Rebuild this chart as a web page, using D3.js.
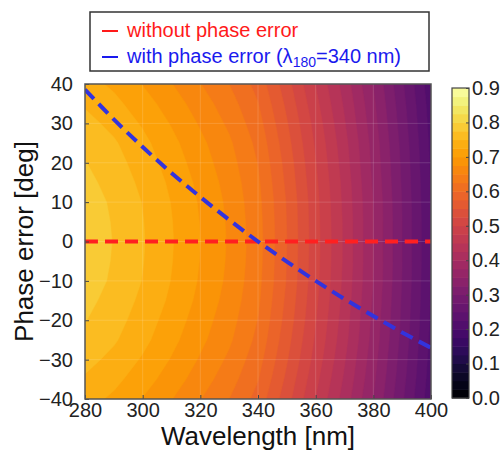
<!DOCTYPE html>
<html>
<head>
<meta charset="utf-8">
<script src="https://cdn.jsdelivr.net/npm/d3@7"></script>
<style>
  body { margin: 0; background: #fff; }
  text { font-family: "Liberation Sans", Arial, sans-serif; }
</style>
</head>
<body>
<div id="chart"></div>
<script>
// Size of the page and of the plot box
const width = 502;
const height = 452;
const plot = {left: 85, right: 431, top: 84, bottom: 399};

// Grid of the contour field, rows from +40 down to -40 deg
const wavelengths = [280, 290, 300, 310, 320, 330, 340, 350, 360, 370, 380, 390, 400];
const phaseErrors = [40, 35, 30, 25, 20, 15, 10, 5, 0, -5, -10, -15, -20, -25, -30, -35, -40];
const values = [
  [0.735, 0.720, 0.699, 0.676, 0.651, 0.625, 0.591, 0.535, 0.474, 0.414, 0.349, 0.279, 0.209],
  [0.747, 0.732, 0.711, 0.688, 0.662, 0.636, 0.601, 0.544, 0.482, 0.421, 0.355, 0.284, 0.213],
  [0.758, 0.743, 0.722, 0.698, 0.672, 0.645, 0.610, 0.552, 0.490, 0.427, 0.360, 0.288, 0.216],
  [0.769, 0.753, 0.732, 0.707, 0.681, 0.654, 0.618, 0.559, 0.496, 0.433, 0.365, 0.292, 0.219],
  [0.776, 0.760, 0.738, 0.714, 0.687, 0.660, 0.624, 0.565, 0.501, 0.437, 0.368, 0.295, 0.221],
  [0.782, 0.766, 0.744, 0.720, 0.693, 0.665, 0.629, 0.569, 0.505, 0.441, 0.371, 0.297, 0.223],
  [0.787, 0.771, 0.749, 0.724, 0.697, 0.669, 0.632, 0.573, 0.508, 0.443, 0.374, 0.299, 0.224],
  [0.789, 0.773, 0.751, 0.726, 0.699, 0.671, 0.634, 0.574, 0.509, 0.445, 0.375, 0.300, 0.225],
  [0.790, 0.774, 0.752, 0.727, 0.700, 0.672, 0.635, 0.575, 0.510, 0.445, 0.375, 0.300, 0.225],
  [0.789, 0.773, 0.751, 0.726, 0.699, 0.671, 0.634, 0.574, 0.509, 0.445, 0.375, 0.300, 0.225],
  [0.787, 0.771, 0.749, 0.724, 0.697, 0.669, 0.632, 0.573, 0.508, 0.443, 0.374, 0.299, 0.224],
  [0.782, 0.766, 0.744, 0.720, 0.693, 0.665, 0.629, 0.569, 0.505, 0.441, 0.371, 0.297, 0.223],
  [0.776, 0.760, 0.738, 0.714, 0.687, 0.660, 0.624, 0.565, 0.501, 0.437, 0.368, 0.295, 0.221],
  [0.769, 0.753, 0.732, 0.707, 0.681, 0.654, 0.618, 0.559, 0.496, 0.433, 0.365, 0.292, 0.219],
  [0.758, 0.743, 0.722, 0.698, 0.672, 0.645, 0.610, 0.552, 0.490, 0.427, 0.360, 0.288, 0.216],
  [0.747, 0.732, 0.711, 0.688, 0.662, 0.636, 0.601, 0.544, 0.482, 0.421, 0.355, 0.284, 0.213],
  [0.735, 0.720, 0.699, 0.676, 0.651, 0.625, 0.591, 0.535, 0.474, 0.414, 0.349, 0.279, 0.209]
];

// the two dashed curves
const noPhaseError = [0, 0, 0, 0, 0, 0, 0, 0, 0, 0, 0, 0, 0];
const withPhaseError = [38.6, 31.0, 24.0, 17.4, 11.3, 5.5, 0, -5.1, -10.0, -14.6, -18.9, -23.1, -27.0];

// ticks
const xTicks = [280, 300, 320, 340, 360, 380, 400];
const yTicks = [-40, -30, -20, -10, 0, 10, 20, 30, 40];
const cbTicks = [0, 0.1, 0.2, 0.3, 0.4, 0.5, 0.6, 0.7, 0.8, 0.9];
const levels = d3.range(0, 0.9, 0.025);
const step = 0.025;

const svg = d3.select("#chart")
  .append("svg")
  .attr("width", width)
  .attr("height", height);

const x = d3.scaleLinear().domain([280, 400]).range([plot.left, plot.right]);
const y = d3.scaleLinear().domain([-40, 40]).range([plot.bottom, plot.top]);
const color = d3.scaleSequential(d3.interpolateInferno).domain([0, 0.9]);

// contours: grid index i sits at coordinate i + 0.5
const cx = d3.scaleLinear().domain([0.5, wavelengths.length - 0.5]).range([x(280), x(400)]);
const cy = d3.scaleLinear().domain([0.5, phaseErrors.length - 0.5]).range([y(40), y(-40)]);
const path = d3.geoPath(d3.geoTransform({
  point: function(px, py) { this.stream.point(cx(px), cy(py)); }
}));

const contours = d3.contours()
  .size([wavelengths.length, phaseErrors.length])
  .thresholds(levels)(values.flat());

svg.append("clipPath").attr("id", "clip")
  .append("rect")
  .attr("x", plot.left).attr("y", plot.top)
  .attr("width", plot.right - plot.left).attr("height", plot.bottom - plot.top);

svg.append("g")
  .attr("clip-path", "url(#clip)")
  .selectAll("path")
  .data(contours)
  .join("path")
  .attr("d", path)
  .attr("fill", d => color(d.value + step / 2))
  .attr("stroke", d => color(d.value + step / 2))
  .attr("stroke-width", 0.5);

// faint grid lines
const grid = svg.append("g").attr("stroke", "#fff").attr("stroke-opacity", 0.15).attr("stroke-width", 1);
grid.selectAll(".vx")
  .data(xTicks.slice(1, -1))
  .join("line")
  .attr("x1", d => x(d)).attr("x2", d => x(d))
  .attr("y1", plot.top).attr("y2", plot.bottom);
grid.selectAll(".hy")
  .data(yTicks.slice(1, -1))
  .join("line")
  .attr("y1", d => y(d)).attr("y2", d => y(d))
  .attr("x1", plot.left).attr("x2", plot.right);

// dashed curves
const line = d3.line()
  .x((d, i) => x(wavelengths[i]))
  .y(d => y(d))
  .curve(d3.curveCatmullRom);

svg.append("path")
  .datum(noPhaseError)
  .attr("d", line)
  .attr("fill", "none")
  .attr("stroke", "#ff2020")
  .attr("stroke-width", 4)
  .attr("stroke-dasharray", "13,7");

svg.append("path")
  .datum(withPhaseError)
  .attr("clip-path", "url(#clip)")
  .attr("d", line)
  .attr("fill", "none")
  .attr("stroke", "#3333dd")
  .attr("stroke-width", 4)
  .attr("stroke-dasharray", "13,7");

// axes
const xAxis = svg.append("g")
  .attr("transform", `translate(0,${plot.bottom})`)
  .call(d3.axisBottom(x).tickValues(xTicks).tickSize(-4).tickPadding(4).tickFormat(d3.format("d")));
const yAxis = svg.append("g")
  .attr("transform", `translate(${plot.left},0)`)
  .call(d3.axisLeft(y).tickValues(yTicks).tickSize(-4).tickPadding(12).tickFormat(d3.format("d")));

[xAxis, yAxis].forEach(g => {
  g.select(".domain").remove();
  g.selectAll(".tick line").attr("stroke", "#444");
  g.selectAll(".tick text").attr("font-size", "20px").attr("fill", "#222")
    .style("font-family", "'Liberation Sans', Arial, sans-serif");
});

// frame
svg.append("rect")
  .attr("x", plot.left).attr("y", plot.top)
  .attr("width", plot.right - plot.left).attr("height", plot.bottom - plot.top)
  .attr("fill", "none").attr("stroke", "#555").attr("stroke-width", 1.5);

// axis titles
svg.append("text")
  .attr("x", (plot.left + plot.right) / 2)
  .attr("y", 445)
  .attr("text-anchor", "middle")
  .attr("font-size", "26px")
  .attr("fill", "#111")
  .text("Wavelength [nm]");

svg.append("text")
  .attr("transform", `translate(33,${(plot.top + plot.bottom) / 2}) rotate(-90)`)
  .attr("text-anchor", "middle")
  .attr("font-size", "26px")
  .attr("fill", "#111")
  .text("Phase error [deg]");

// colorbar
const cb = {left: 452, right: 469, top: 88, bottom: 398};
const cbScale = d3.scaleLinear().domain([0, 0.9]).range([cb.bottom, cb.top]);

svg.append("g")
  .selectAll("rect")
  .data(levels)
  .join("rect")
  .attr("x", cb.left)
  .attr("width", cb.right - cb.left)
  .attr("y", d => cbScale(d + step))
  .attr("height", d => cbScale(d) - cbScale(d + step) + 0.5)
  .attr("fill", d => color(d + step / 2));

svg.append("rect")
  .attr("x", cb.left).attr("y", cb.top)
  .attr("width", cb.right - cb.left).attr("height", cb.bottom - cb.top)
  .attr("fill", "none").attr("stroke", "#444").attr("stroke-width", 1.2);

const cbAxis = svg.append("g")
  .attr("transform", `translate(${cb.right},0)`)
  .call(d3.axisRight(cbScale).tickValues(cbTicks).tickSize(-3).tickPadding(3).tickFormat(d3.format(".1f")));
cbAxis.select(".domain").remove();
cbAxis.selectAll(".tick line").attr("stroke", "#444");
cbAxis.selectAll(".tick text").attr("font-size", "20px").attr("fill", "#222")
  .style("font-family", "'Liberation Sans', Arial, sans-serif");

// legend
const legend = svg.append("g");
legend.append("rect")
  .attr("x", 90).attr("y", 12).attr("width", 339).attr("height", 59)
  .attr("fill", "#fff").attr("stroke", "#333").attr("stroke-width", 1.5);

const legendItems = [
  {label: "without phase error", color: "#ff1a1a", yb: 37},
  {label: "with phase error (λ", color: "#1a1aee", yb: 63}
];
legendItems.forEach(it => {
  legend.append("line")
    .attr("x1", 102).attr("x2", 118)
    .attr("y1", it.yb - 6).attr("y2", it.yb - 6)
    .attr("stroke", it.color).attr("stroke-width", 2);
});
legend.append("text")
  .attr("x", 127).attr("y", legendItems[0].yb)
  .attr("font-size", "20px").attr("fill", legendItems[0].color)
  .text(legendItems[0].label);
const t2 = legend.append("text")
  .attr("x", 127).attr("y", legendItems[1].yb)
  .attr("font-size", "20px").attr("fill", legendItems[1].color);
t2.append("tspan").text(legendItems[1].label);
t2.append("tspan").attr("font-size", "14px").attr("dy", 4).text("180");
t2.append("tspan").attr("dy", -4).text("=340 nm)");
</script>
</body>
</html>
